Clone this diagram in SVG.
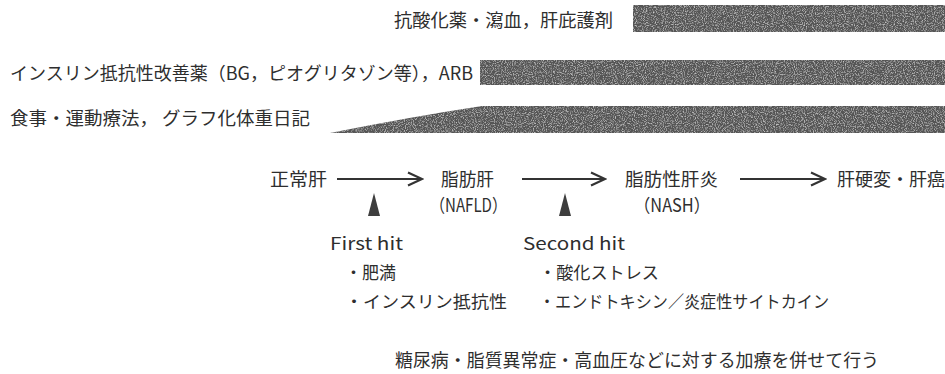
<svg xmlns="http://www.w3.org/2000/svg" width="945" height="374" viewBox="0 0 945 374">
<style>
  .t { font-family: "Noto Sans CJK JP", "Noto Sans", sans-serif; fill: #2e2e2e; font-size: 18px; }
  .s { font-size: 17px; }
  .bar { fill: #555555; filter: url(#grain); }
  .arr { stroke: #333; stroke-width: 2.2; fill: none; marker-end: url(#head); }
  .tri { fill: #3e3e3e; }
</style>
<defs>
  <filter id="grain" x="0" y="0" width="100%" height="100%">
    <feTurbulence type="fractalNoise" baseFrequency="0.9" numOctaves="2" seed="4" result="n"/>
    <feColorMatrix in="n" type="matrix" values="0 0 0 0 0.85  0 0 0 0 0.85  0 0 0 0 0.85  1.6 0 0 0 -0.75" result="w"/>
    <feComposite in="w" in2="SourceGraphic" operator="in" result="ws"/>
    <feMerge><feMergeNode in="SourceGraphic"/><feMergeNode in="ws"/></feMerge>
  </filter>
  <marker id="head" markerUnits="userSpaceOnUse" markerWidth="18" markerHeight="18" viewBox="0 0 18 18" refX="16" refY="9" orient="auto">
    <path d="M2,2.5 L16,9 L2,15.5" fill="none" stroke="#333" stroke-width="2.2"/>
  </marker>
</defs>

<g id="treatment-antioxidant">
  <text class="t" x="394" y="27" textLength="219" lengthAdjust="spacingAndGlyphs">抗酸化薬・瀉血，肝庇護剤</text>
  <rect class="bar" x="633" y="5" width="312" height="27"/>
</g>
<g id="treatment-insulin">
  <text class="t" x="10" y="80" textLength="463" lengthAdjust="spacingAndGlyphs">インスリン抵抗性改善薬（BG，ピオグリタゾン等），ARB</text>
  <rect class="bar" x="480" y="60" width="465" height="25"/>
</g>
<g id="treatment-diet">
  <text class="t" x="10" y="125" textLength="300" lengthAdjust="spacingAndGlyphs">食事・運動療法， グラフ化体重日記</text>
  <path class="bar" d="M330,133 Q410,117 482,106 L945,106 L945,133 Z"/>
</g>

<g id="normal-liver">
  <text class="t" x="270" y="186" textLength="57" lengthAdjust="spacingAndGlyphs">正常肝</text>
</g>
<g id="nafld">
  <text class="t" x="441" y="186" textLength="53" lengthAdjust="spacingAndGlyphs">脂肪肝</text>
  <text class="t" x="430" y="212" textLength="77" lengthAdjust="spacingAndGlyphs">（NAFLD）</text>
</g>
<g id="nash">
  <text class="t" x="625" y="186" textLength="93" lengthAdjust="spacingAndGlyphs">脂肪性肝炎</text>
  <text class="t" x="634" y="212" textLength="76" lengthAdjust="spacingAndGlyphs">（NASH）</text>
</g>
<g id="cirrhosis">
  <text class="t" x="837" y="186" textLength="108" lengthAdjust="spacingAndGlyphs">肝硬変・肝癌</text>
</g>

<g id="connectors">
  <line class="arr" x1="337" y1="179" x2="422" y2="179"/>
  <line class="arr" x1="522" y1="179" x2="605" y2="179"/>
  <line class="arr" x1="740" y1="179" x2="825" y2="179"/>
  <path class="tri" d="M374,193 L380,216 L368,216 Z"/>
  <path class="tri" d="M565,193 L571,216 L559,216 Z"/>
</g>

<g id="first-hit">
  <text class="t s" x="330" y="250" textLength="73" lengthAdjust="spacingAndGlyphs">First hit</text>
  <text class="t s" x="345" y="279">・肥満</text>
  <text class="t s" x="345" y="308" textLength="162" lengthAdjust="spacingAndGlyphs">・インスリン抵抗性</text>
</g>
<g id="second-hit">
  <text class="t s" x="523" y="250" textLength="102" lengthAdjust="spacingAndGlyphs">Second hit</text>
  <text class="t s" x="539" y="279" textLength="120" lengthAdjust="spacingAndGlyphs">・酸化ストレス</text>
  <text class="t s" x="539" y="308" textLength="290" lengthAdjust="spacingAndGlyphs">・エンドトキシン／炎症性サイトカイン</text>
</g>

<g id="note">
  <text class="t" x="395" y="367" textLength="484" lengthAdjust="spacingAndGlyphs">糖尿病・脂質異常症・高血圧などに対する加療を併せて行う</text>
</g>
</svg>
